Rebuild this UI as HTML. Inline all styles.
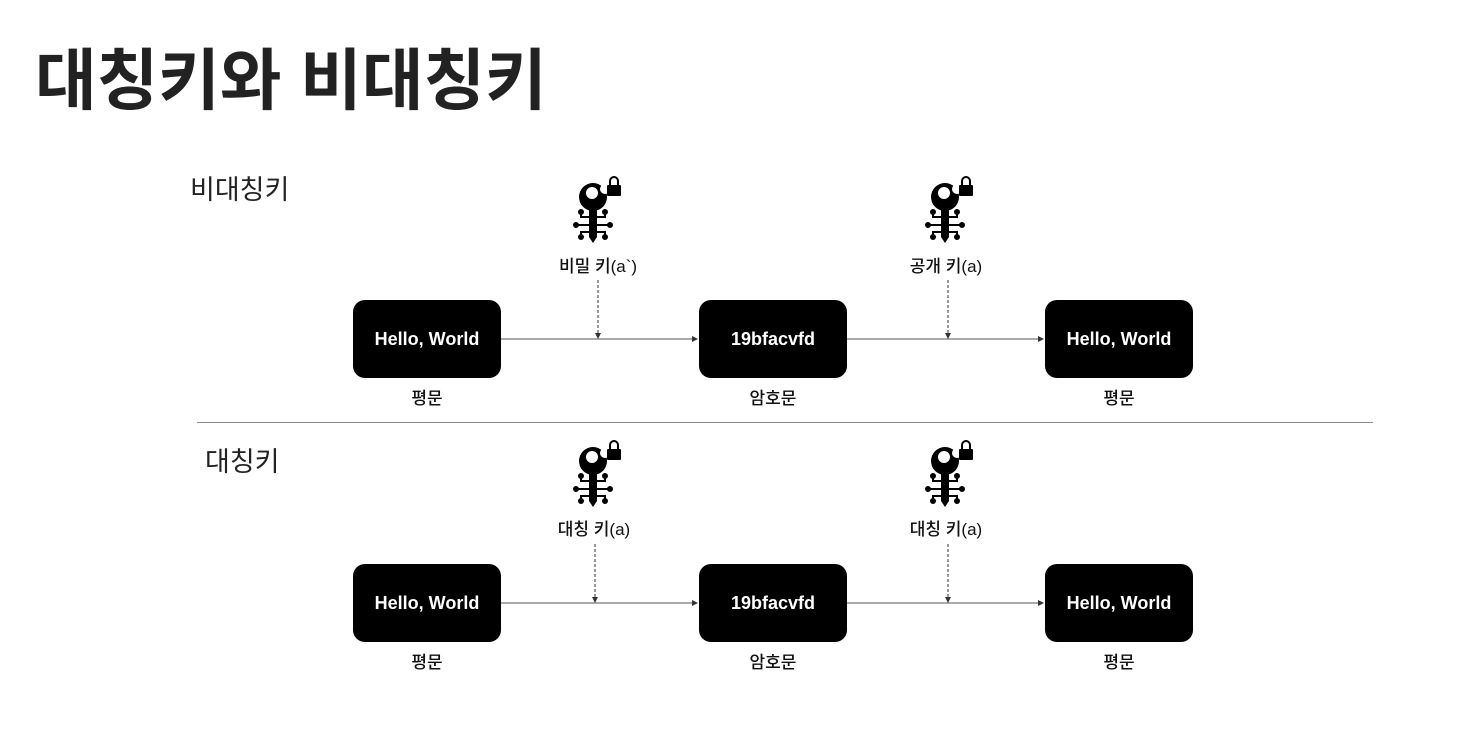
<!DOCTYPE html>
<html><head><meta charset="utf-8"><style>
html,body{margin:0;padding:0;background:#fff;}
svg{display:block;font-family:"Liberation Sans","Noto Sans CJK KR",sans-serif;}
</style></head><body>
<svg width="1460" height="750" viewBox="0 0 1460 750" xmlns="http://www.w3.org/2000/svg">
<defs>
<marker id="ar" markerWidth="6" markerHeight="6" refX="5" refY="3" orient="auto"><path d="M0,0 L6,3 L0,6z" fill="#333"/></marker>
<g id="key">
  <circle cx="0" cy="0" r="14" fill="#000"/>
  <circle cx="-1" cy="-4" r="6" fill="#fff"/>
  <circle cx="12" cy="-8" r="5" fill="#fff"/>
  <rect x="-4" y="10" width="8" height="30" fill="#000"/>
  <path d="M-4,40 L0,46 L4,40z" fill="#000"/>
  <g stroke="#000" stroke-width="2" fill="#000">
    <line x1="-16" y1="28" x2="16" y2="28"/>
    <path d="M-4,20 L-12,20 L-12,16" fill="none"/><circle cx="-12" cy="15" r="2"/>
    <path d="M4,20 L12,20 L12,16" fill="none"/><circle cx="12" cy="15" r="2"/>
    <path d="M-4,35 L-12,35 L-12,39" fill="none"/><circle cx="-12" cy="40" r="2"/>
    <path d="M4,35 L12,35 L12,39" fill="none"/><circle cx="12" cy="40" r="2"/>
    <circle cx="-17" cy="28" r="2"/><circle cx="17" cy="28" r="2"/>
  </g>
  <rect x="14" y="-12" width="14" height="11" rx="1" fill="#000"/>
  <path d="M17,-12 V-16 a4,4 0 0 1 8,0 V-12" fill="none" stroke="#000" stroke-width="2"/>
</g>
<g id="box"><rect width="148" height="78" rx="12" fill="#000"/></g>
</defs>

<text x="35" y="104" font-size="67" font-weight="bold" fill="#222">대칭키와 비대칭키</text>
<text x="190" y="199" font-size="27" fill="#222">비대칭키</text>
<text x="205" y="471" font-size="27" fill="#222">대칭키</text>
<line x1="197" y1="422.5" x2="1373" y2="422.5" stroke="#888" stroke-width="1"/>

<use href="#key" x="593" y="197"/>
<use href="#key" x="945" y="197"/>
<text x="598" y="272" font-size="17" font-weight="500" text-anchor="middle" fill="#111">비밀 키(a`)</text>
<text x="946" y="272" font-size="17" font-weight="500" text-anchor="middle" fill="#111">공개 키(a)</text>
<line x1="501" y1="339" x2="697" y2="339" stroke="#555" stroke-width="1" marker-end="url(#ar)"/>
<line x1="847" y1="339" x2="1043" y2="339" stroke="#555" stroke-width="1" marker-end="url(#ar)"/>
<line x1="598" y1="280" x2="598" y2="338" stroke="#333" stroke-dasharray="3,2" marker-end="url(#ar)"/>
<line x1="948" y1="280" x2="948" y2="338" stroke="#333" stroke-dasharray="3,2" marker-end="url(#ar)"/>
<use href="#box" x="353" y="300"/><use href="#box" x="699" y="300"/><use href="#box" x="1045" y="300"/>
<g font-size="18" font-weight="bold" fill="#fff" text-anchor="middle">
<text x="427" y="345">Hello, World</text><text x="773" y="345">19bfacvfd</text><text x="1119" y="345">Hello, World</text>
<text x="427" y="609">Hello, World</text><text x="773" y="609">19bfacvfd</text><text x="1119" y="609">Hello, World</text>
</g>
<g font-size="17" font-weight="500" fill="#111" text-anchor="middle">
<text x="427" y="404">평문</text><text x="773" y="404">암호문</text><text x="1119" y="404">평문</text>
<text x="427" y="668">평문</text><text x="773" y="668">암호문</text><text x="1119" y="668">평문</text>
</g>

<use href="#key" x="593" y="461"/>
<use href="#key" x="945" y="461"/>
<text x="594" y="535" font-size="17" font-weight="500" text-anchor="middle" fill="#111">대칭 키(a)</text>
<text x="946" y="535" font-size="17" font-weight="500" text-anchor="middle" fill="#111">대칭 키(a)</text>
<line x1="501" y1="603" x2="697" y2="603" stroke="#555" stroke-width="1" marker-end="url(#ar)"/>
<line x1="847" y1="603" x2="1043" y2="603" stroke="#555" stroke-width="1" marker-end="url(#ar)"/>
<line x1="595" y1="544" x2="595" y2="602" stroke="#333" stroke-dasharray="3,2" marker-end="url(#ar)"/>
<line x1="948" y1="544" x2="948" y2="602" stroke="#333" stroke-dasharray="3,2" marker-end="url(#ar)"/>
<use href="#box" x="353" y="564"/><use href="#box" x="699" y="564"/><use href="#box" x="1045" y="564"/>
<g font-size="18" font-weight="bold" fill="#fff" text-anchor="middle">
<text x="427" y="609">Hello, World</text><text x="773" y="609">19bfacvfd</text><text x="1119" y="609">Hello, World</text>
</g>
</svg>
</body></html>
